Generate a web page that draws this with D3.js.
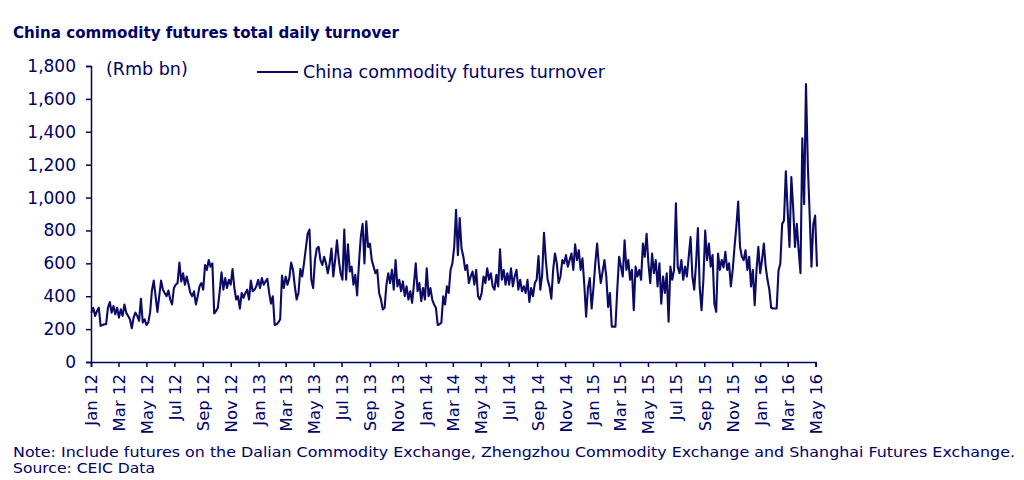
<!DOCTYPE html>
<html>
<head>
<meta charset="utf-8">
<script src="https://cdn.jsdelivr.net/npm/d3@7/dist/d3.min.js"></script>
<style>
  html, body { margin: 0; padding: 0; background: #ffffff; }
  svg { display: block; }
  text { font-family: "DejaVu Sans", Verdana, sans-serif; fill: #000066; }
</style>
</head>
<body>
<svg id="chart" width="1024" height="480"></svg>
<script>
// ---- data (Rmb bn), sampled every 4 calendar days from 2 Jan 2012 ----
const seriesName = "China commodity futures turnover";
const startDate = "2012-01-02";
const stepDays = 4;
const turnover = [
  300,330,280,310,330,220,225,230,230,330,
  365,300,340,290,330,270,320,280,350,300,
  280,260,205,270,300,280,250,385,240,260,
  225,240,300,435,495,400,305,400,495,440,
  420,400,435,380,350,450,470,480,605,490,
  540,470,520,470,420,400,430,350,400,460,
  480,440,590,560,620,580,600,295,310,330,
  430,545,440,510,450,500,470,565,450,380,
  400,325,420,390,420,440,380,495,430,440,
  460,500,450,510,470,490,505,420,355,400,
  225,230,240,260,525,450,520,470,510,605,
  560,460,380,420,565,520,600,690,780,805,
  500,450,620,690,700,620,590,640,600,540,
  600,690,520,620,740,620,540,500,805,500,
  715,550,580,470,530,405,600,760,840,600,
  855,700,720,620,580,540,560,420,380,320,
  330,470,540,480,560,440,620,460,500,430,
  490,400,460,380,430,360,470,600,430,480,
  370,450,380,570,400,450,380,350,330,225,
  230,240,400,350,460,420,560,600,700,925,
  650,875,690,640,560,590,480,520,550,470,
  560,400,380,420,520,480,570,500,540,460,
  440,530,460,685,500,560,470,540,470,570,
  460,520,560,440,500,430,460,420,500,365,
  450,400,480,500,645,440,530,785,620,500,
  460,385,560,660,600,480,520,620,600,650,
  580,620,660,560,715,620,680,560,630,470,
  276,450,510,325,450,600,720,580,480,550,
  620,520,335,420,215,215,215,440,640,580,
  520,740,560,620,500,560,315,580,520,560,
  500,720,640,780,600,480,660,540,620,460,
  600,355,520,420,540,245,580,500,560,965,
  580,540,620,500,580,520,640,760,520,440,
  600,815,455,315,500,800,620,720,580,650,
  355,305,660,560,620,575,670,560,600,460,
  560,700,825,975,700,640,620,680,560,640,
  460,560,345,560,700,540,620,720,580,500,
  440,330,325,325,325,555,600,840,860,1160,
  920,700,1125,940,700,840,680,540,1360,960,
  1690,1200,900,580,840,890,580
];
const yTicks = [0,200,400,600,800,1000,1200,1400,1600,1800];
const xTickLabels = ["Jan 12","Mar 12","May 12","Jul 12","Sep 12","Nov 12",
  "Jan 13","Mar 13","May 13","Jul 13","Sep 13","Nov 13",
  "Jan 14","Mar 14","May 14","Jul 14","Sep 14","Nov 14",
  "Jan 15","Mar 15","May 15","Jul 15","Sep 15","Nov 15",
  "Jan 16","Mar 16","May 16"];
const titleText = "China commodity futures total daily turnover";
const unitText = "(Rmb bn)";
const noteText = "Note: Include futures on the Dalian Commodity Exchange, Zhengzhou Commodity Exchange and Shanghai Futures Exchange.";
const sourceText = "Source: CEIC Data";

// ---- layout ----
const navy = "#000066";
const lineColor = "#0b0b66";
const svg = d3.select("#chart");
const plotLeft = 91, plotRight = 815.6, plotTop = 66, plotBottom = 362;

const parse = d3.timeParse("%Y-%m-%d");
const t0 = parse(startDate);
const data = turnover.map((v, i) => ({ date: d3.timeDay.offset(t0, i * stepDays), value: v }));

const firstTick = new Date(2012, 0, 1);
const tickDates = xTickLabels.map((_, i) => d3.timeMonth.offset(firstTick, i * 2));

const x = d3.scaleTime()
  .domain([tickDates[0], tickDates[tickDates.length - 1]])
  .range([plotLeft, plotRight]);
const y = d3.scaleLinear().domain([0, 1800]).range([plotBottom, plotTop]);

// title
svg.append("text")
  .attr("x", 13).attr("y", 38)
  .style("font-weight", "bold").style("font-size", "15px")
  .attr("textLength", 386).attr("lengthAdjust", "spacingAndGlyphs")
  .text(titleText);

// y axis
const yAxis = svg.append("g")
  .attr("transform", `translate(${plotLeft},0)`)
  .call(d3.axisLeft(y).tickValues(yTicks).tickSize(5).tickPadding(10)
    .tickFormat(d3.format(",")));
yAxis.select(".domain").attr("stroke", navy).attr("stroke-width", 1.5);
yAxis.selectAll(".tick line").attr("stroke", navy).attr("stroke-width", 1.5);
yAxis.selectAll(".tick text")
  .style("font-size", "17px").attr("fill", navy)
  .style("font-family", "'DejaVu Sans', Verdana, sans-serif");

// x axis
const xAxis = svg.append("g")
  .attr("transform", `translate(0,${plotBottom})`)
  .call(d3.axisBottom(x).tickValues(tickDates).tickSize(5)
    .tickFormat((d, i) => xTickLabels[i]));
xAxis.select(".domain").attr("stroke", navy).attr("stroke-width", 1.5);
xAxis.selectAll(".tick line").attr("stroke", navy).attr("stroke-width", 1.5);
xAxis.selectAll(".tick text")
  .style("font-size", "16.5px").attr("fill", navy)
  .style("font-family", "'DejaVu Sans', Verdana, sans-serif")
  .attr("text-anchor", "end")
  .attr("transform", "rotate(-90)")
  .attr("x", -12).attr("y", 0).attr("dy", "0.36em");

// series line
const line = d3.line()
  .x(d => x(d.date))
  .y(d => y(d.value));
svg.append("path")
  .datum(data)
  .attr("fill", "none")
  .attr("stroke", lineColor)
  .attr("stroke-width", 2.1)
  .attr("stroke-linejoin", "round")
  .attr("d", line);

// unit label
svg.append("text")
  .attr("x", 106).attr("y", 75)
  .style("font-size", "17.5px")
  .text(unitText);

// legend
svg.append("line")
  .attr("x1", 257).attr("x2", 298).attr("y1", 72).attr("y2", 72)
  .attr("stroke", lineColor).attr("stroke-width", 2.1);
svg.append("text")
  .attr("x", 303).attr("y", 78)
  .style("font-size", "17.5px")
  .text(seriesName);

// notes
svg.append("text")
  .attr("x", 13).attr("y", 457)
  .style("font-size", "14px")
  .attr("textLength", 1002).attr("lengthAdjust", "spacingAndGlyphs")
  .text(noteText);
svg.append("text")
  .attr("x", 13).attr("y", 473)
  .style("font-size", "14px")
  .attr("textLength", 142).attr("lengthAdjust", "spacingAndGlyphs")
  .text(sourceText);
</script>
</body>
</html>
